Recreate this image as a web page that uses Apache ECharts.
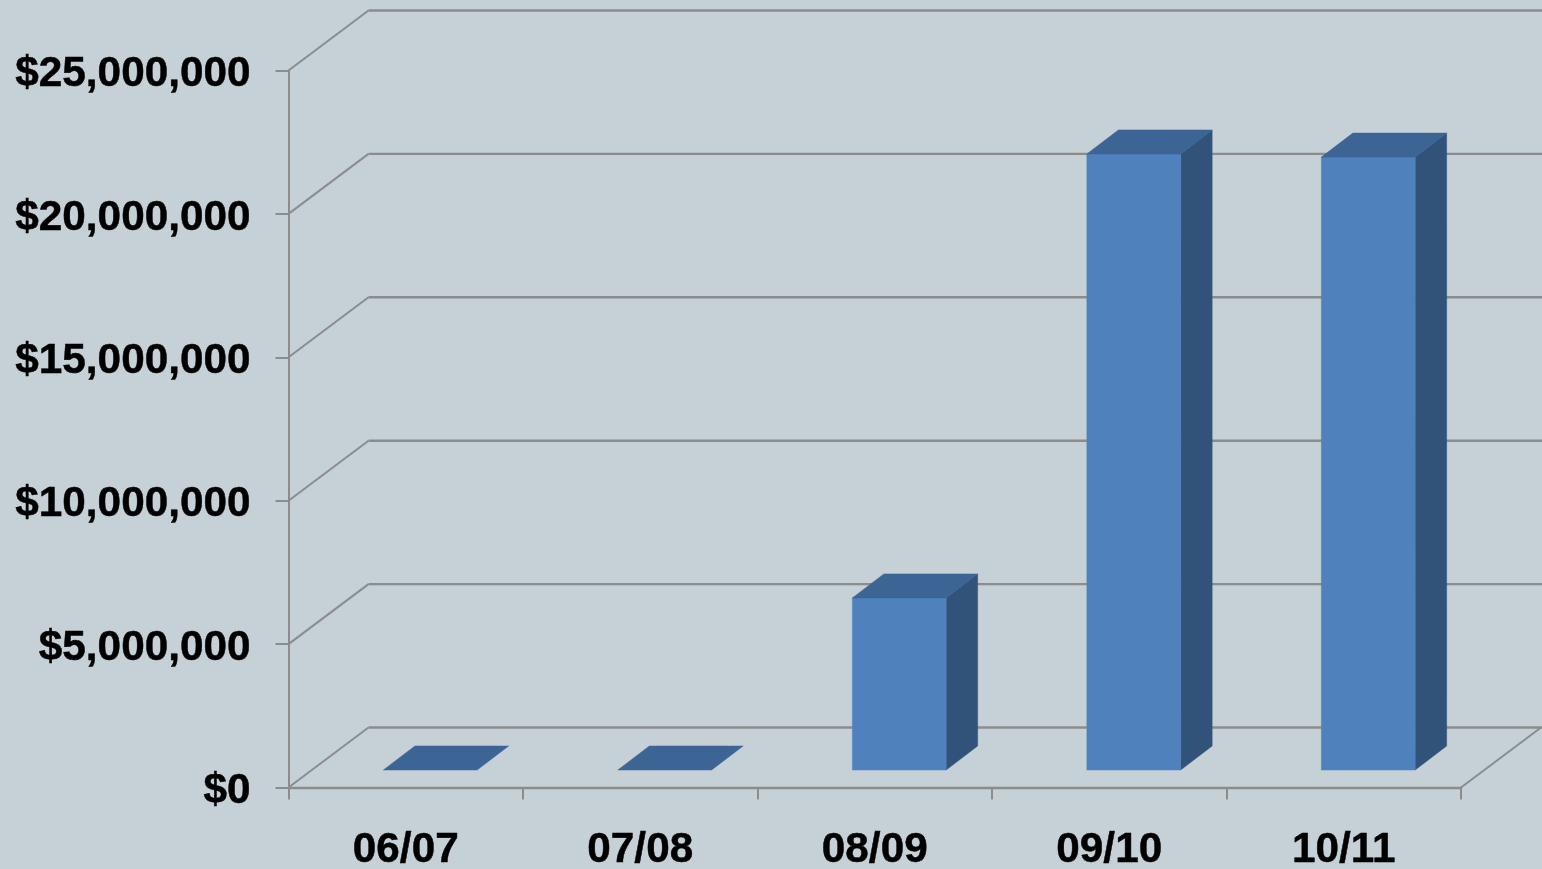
<!DOCTYPE html>
<html>
<head>
<meta charset="utf-8">
<style>html,body{margin:0;padding:0;background:#c5d0d7;overflow:hidden}#c{width:1542px;height:869px}</style>
<script src="https://cdn.jsdelivr.net/npm/echarts@6/dist/echarts.min.js"></script>
</head>
<body>
<div id="c"></div>
<script>
const categories = ['06/07', '07/08', '08/09', '09/10', '10/11'];
const values = [0, 0, 6000000, 21480000, 21370000];
const yTicks = [0, 5000000, 10000000, 15000000, 20000000, 25000000];

const GRID_C = '#8c8c8c';
const WALL_DX = 80, WALL_DY = -60;   // depth of the floor
const BAR_IN_X = 24.5, BAR_IN_Y = -17.5; // bar inset from the front edge
const BAR_DX = 31.5, BAR_DY = -24;   // depth of a bar

const fmt = v => '{a|$' + v.toString().replace(/\B(?=(\d{3})+$)/g, ',') + '}';
const chart = echarts.init(document.getElementById('c'), null, {renderer: 'canvas'});

chart.setOption({
  animation: false,
  backgroundColor: '#c5d0d7',
  textStyle: {fontFamily: '"Liberation Sans", Arial, sans-serif'},
  grid: {left: 288.5, right: 81, top: 70.5, bottom: 81.5, outerBoundsMode: 'none'},
  xAxis: {
    type: 'category', data: categories, boundaryGap: true,
    axisLine: {show: true, lineStyle: {color: GRID_C, width: 2.4}},
    axisTick: {show: true, length: 12, alignWithLabel: false, lineStyle: {color: GRID_C, width: 2}},
    axisLabel: {color: '#000', fontSize: 42.3, fontWeight: 'bold', margin: 41, interval: 0, lineHeight: 43,
      textBorderColor: '#000', textBorderWidth: 0.5},
    splitLine: {show: false}
  },
  yAxis: {
    type: 'value', min: 0, max: 25000000, interval: 5000000,
    axisLine: {show: true, lineStyle: {color: GRID_C, width: 2}},
    axisTick: {show: true, length: 13, lineStyle: {color: GRID_C, width: 2}},
    axisLabel: {margin: 38, formatter: fmt,
      rich: {a: {color: '#000', fontSize: 42.3, fontWeight: 'bold', padding: [8, 0, 0, 0],
        fontFamily: '"Liberation Sans", Arial, sans-serif', textBorderColor: '#000', textBorderWidth: 0.5}}},
    splitLine: {show: false}
  },
  series: [
    {
      type: 'custom', coordinateSystem: 'cartesian2d', clip: false, silent: true, z: 1,
      data: yTicks.map(v => [0, v]),
      encode: {x: 0, y: 1},
      renderItem(params, api) {
        const v = api.value(1);
        const p = api.coord([0, v]);
        const size = api.size([1, 0]);
        const left = p[0] - size[0] / 2;
        const right = left + size[0] * categories.length;
        const y = p[1];
        const thin = {stroke: GRID_C, lineWidth: 2, fill: null};
        const thick = {stroke: GRID_C, lineWidth: 2.4, fill: null};
        const kids = [
          {type: 'line', shape: {x1: left, y1: y, x2: left + WALL_DX, y2: y + WALL_DY}, style: thin},
          {type: 'line', shape: {x1: left + WALL_DX, y1: y + WALL_DY, x2: right + WALL_DX + 2, y2: y + WALL_DY}, style: thick}
        ];
        if (v === 0) kids.push({type: 'line', shape: {x1: right, y1: y, x2: right + WALL_DX, y2: y + WALL_DY}, style: thin});
        return {type: 'group', children: kids};
      }
    },
    {
      type: 'custom', coordinateSystem: 'cartesian2d', clip: false, silent: true, z: 2,
      data: values.map((v, i) => [i, v]),
      encode: {x: 0, y: 1},
      renderItem(params, api) {
        const top = api.coord([api.value(0), api.value(1)]);
        const base = api.coord([api.value(0), 0]);
        const w = api.size([1, 0])[0] * 0.4;
        const x0 = top[0] + BAR_IN_X - w / 2, x1 = x0 + w;
        const yT = top[1] + BAR_IN_Y, yB = base[1] + BAR_IN_Y;
        const poly = (points, fill) => ({type: 'polygon', shape: {points}, style: {fill, stroke: fill, lineWidth: 0.5}});
        const kids = [];
        if (yB - yT > 0.5) {
          kids.push(poly([[x1, yT], [x1 + BAR_DX, yT + BAR_DY], [x1 + BAR_DX, yB + BAR_DY], [x1, yB]], '#315279'));
          kids.push(poly([[x0, yT], [x1, yT], [x1, yB], [x0, yB]], '#4f81bd'));
        }
        kids.push(poly([[x0, yT], [x1, yT], [x1 + BAR_DX, yT + BAR_DY], [x0 + BAR_DX, yT + BAR_DY]], '#3c6494'));
        return {type: 'group', children: kids};
      }
    }
  ]
});
</script>
</body>
</html>
